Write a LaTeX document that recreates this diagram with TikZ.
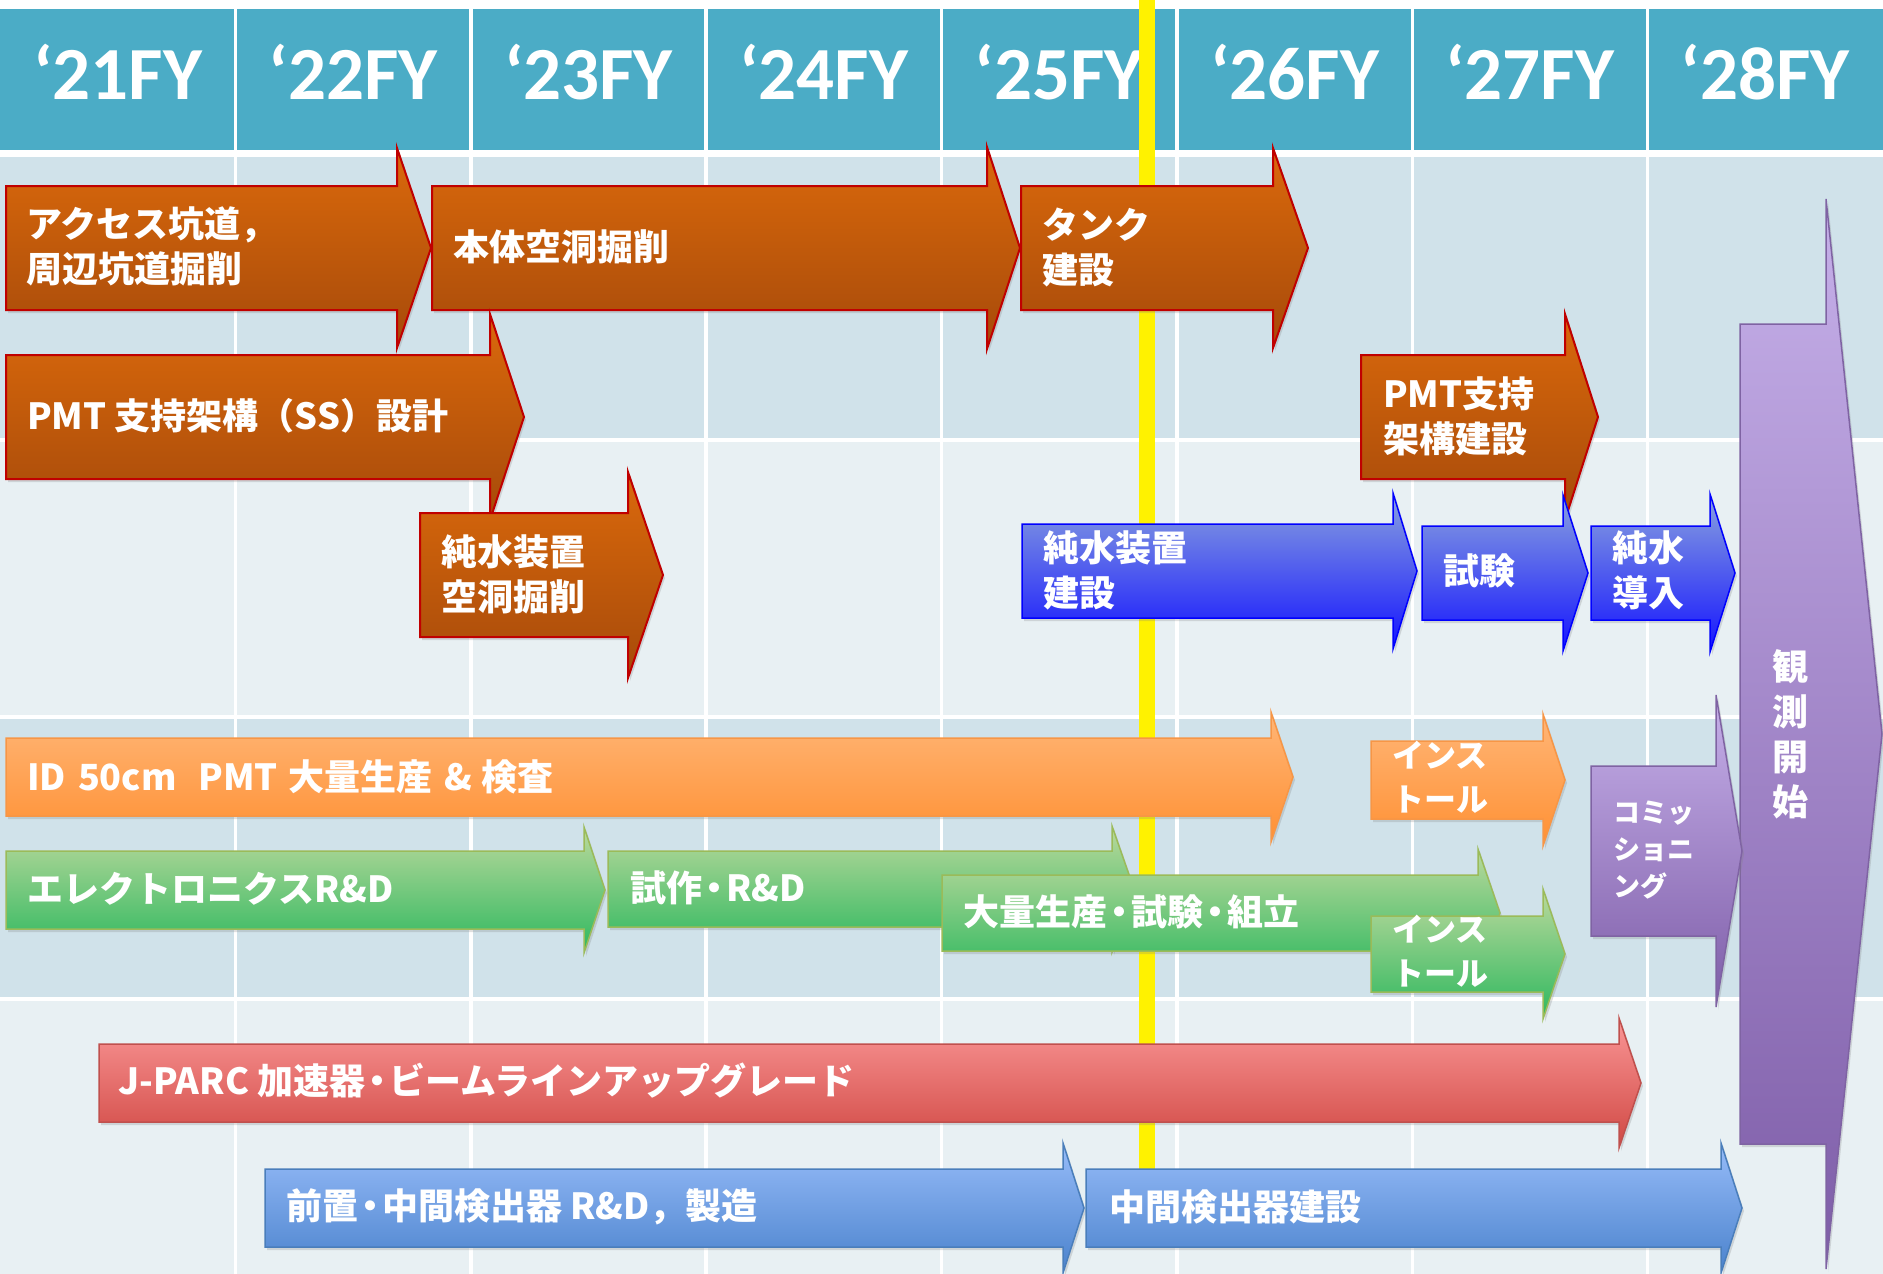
\documentclass[tikz,border=0pt]{standalone}
\usepackage{fontspec}
\newfontfamily\jpf{Noto Sans CJK JP}
\newfontfamily\hdf{Carlito}
\usetikzlibrary{shadows}
\definecolor{teal}{HTML}{4BACC6}
\definecolor{banddark}{HTML}{D0E2EA}
\definecolor{bandlight}{HTML}{E8F0F3}
\definecolor{brownT}{HTML}{DB690C}
\definecolor{brownB}{HTML}{A64A0A}
\definecolor{brownL}{HTML}{C00000}
\definecolor{loT}{HTML}{FFB677}
\definecolor{loB}{HTML}{FF9033}
\definecolor{loL}{HTML}{F79646}
\definecolor{grT}{HTML}{BCD99D}
\definecolor{grB}{HTML}{2DB85E}
\definecolor{grL}{HTML}{9BBB59}
\definecolor{pbT}{HTML}{8AA2DE}
\definecolor{pbB}{HTML}{1414FF}
\definecolor{pbL}{HTML}{0000FF}
\definecolor{puT}{HTML}{C6B0E9}
\definecolor{puB}{HTML}{7E5DA8}
\definecolor{puL}{HTML}{7F63A3}
\definecolor{rdT}{HTML}{FA9696}
\definecolor{rdB}{HTML}{D04843}
\definecolor{rdL}{HTML}{C0504D}
\definecolor{lbT}{HTML}{97BCF9}
\definecolor{lbB}{HTML}{4A82CC}
\definecolor{lbL}{HTML}{4A7EBB}
\newcommand\nd{\hspace{-6pt}・\hspace{-6pt}}
\newcommand\myarrow[8]{%
  \draw[#2] (#3,#6-#7) -- (#4,#6-#7) -- (#4,#6-#8) -- (#5,#6) -- (#4,#6+#8) -- (#4,#6+#7) -- (#3,#6+#7) -- cycle;
  \coordinate (#1) at (#3,#6);
}
\begin{document}
\begin{tikzpicture}[x=1pt,y=-1pt,
  shd/.style={drop shadow={shadow xshift=2pt,shadow yshift=-3pt,opacity=.25}},
  brownarr/.style={shd,draw=brownL,line width=2pt,top color=brownT,bottom color=brownB},
  lorange/.style={shd,draw=loL,line width=1.5pt,top color=loT,bottom color=loB},
  greenarr/.style={shd,draw=grL,line width=1.5pt,top color=grT,bottom color=grB},
  pblue/.style={shd,draw=pbL,line width=1.5pt,top color=pbT,bottom color=pbB},
  purplearr/.style={shd,draw=puL,line width=1.5pt,top color=puT,bottom color=puB},
  redarr/.style={shd,draw=rdL,line width=1.5pt,top color=rdT,bottom color=rdB},
  lblue/.style={shd,draw=lbL,line width=1.5pt,top color=lbT,bottom color=lbB},
  lbl/.style={anchor=west,inner sep=0pt,text=white,align=left,font=\jpf\bfseries\fontsize{36}{45}\selectfont},
  inst/.style={lbl,font=\jpf\bfseries\fontsize{32}{44}\selectfont},
  hdr/.style={inner sep=0pt,text=white,font=\hdf\bfseries\fontsize{75}{80}\selectfont},
  gridline/.style={white,line width=3.5pt}]
\useasboundingbox (0,0) rectangle (1883,1274);
\fill[white] (0,0) rectangle (1883,1274);
% header
\fill[teal] (0,9) rectangle (1883,150);
% bands
\fill[banddark] (0,157) rectangle (1883,440);
\fill[bandlight] (0,440) rectangle (1883,717);
\fill[banddark] (0,717) rectangle (1883,999);
\fill[bandlight] (0,999) rectangle (1883,1274);
\foreach \yy in {440,717,999} \draw[gridline,line width=4pt] (0,\yy) -- (1883,\yy);
\foreach \k in {1,...,7} \draw[gridline] ({\k*235.375},9) -- ({\k*235.375},1274);
\foreach \i/\lab in {0/‘21FY,1/‘22FY,2/‘23FY,3/‘24FY,4/‘25FY,5/‘26FY,6/‘27FY,7/‘28FY}
  \node[hdr] (h\i) at ({(\i+0.5)*235.375},72) {\lab};
% today line
\fill[yellow] (1139,0) rectangle (1155,1200);
% arrows
\myarrow{a1}{brownarr}{6}{397}{431}{248}{62}{100}
\node[lbl] (t1) at (26,246.5) {アクセス坑道，\\周辺坑道掘削};
\myarrow{a2}{brownarr}{432}{987}{1020}{248}{62}{101}
\node[lbl] (t2) at (453,247) {本体空洞掘削};
\myarrow{a3}{brownarr}{1021}{1273}{1308}{248}{62}{100}
\node[lbl] (t3) at (1042,247) {タンク\\建設};
\myarrow{a4}{brownarr}{6}{490}{524}{417}{62}{103}
\node[lbl] (t4) at (27,416) {PMT 支持架構（SS）設計};
\myarrow{a5}{brownarr}{420}{628}{663}{575}{62}{103}
\node[lbl] (t5) at (441,574.5) {純水装置\\空洞掘削};
\myarrow{a6}{brownarr}{1361}{1565}{1598}{417}{62}{103}
\node[lbl] (t6) at (1383,416.5) {PMT支持\\架構建設};
\myarrow{a7}{pblue}{1022}{1393}{1417}{571}{47}{78}
\node[lbl] (t7) at (1043,570) {純水装置\\建設};
\myarrow{a8}{pblue}{1422}{1563}{1588}{573}{47}{78}
\node[lbl] (t8) at (1443,571) {試験};
\myarrow{a9}{pblue}{1591}{1710}{1735}{573}{47}{79}
\node[lbl] (t9) at (1612,570) {純水\\導入};
\myarrow{a10}{purplearr}{1740}{1826}{1882}{734}{410}{535}
\node[lbl,anchor=center,align=center,font=\jpf\bfseries\fontsize{36}{45}\selectfont] (t10) at (1790,734) {観\\測\\開\\始};
\myarrow{a11}{purplearr}{1591}{1716}{1742}{851}{85}{156}
\node[lbl,font=\jpf\bfseries\fontsize{27}{37}\selectfont] (t11) at (1613,850) {コミッ\\ショニ\\ング};
\myarrow{a12}{lorange}{6}{1271}{1293}{777}{39}{65}
\node[lbl] (t12) at (27,777) {ID\hspace{12pt}50cm\hspace{22pt}PMT\hspace{10pt}大量生産\hspace{12pt}\&\hspace{10pt}検査};
\myarrow{a13}{lorange}{1371}{1543}{1565}{780}{39}{66}
\node[inst] (t13) at (1392,777) {インス\\トール};
\myarrow{a14}{greenarr}{6}{584}{605}{890}{39}{63}
\node[lbl] (t14) at (27,889) {エレクトロニクスR\&D};
\myarrow{a15}{greenarr}{608}{1112}{1134}{889}{38}{63}
\node[lbl] (t15) at (630,888) {試作\nd R\&D};
\myarrow{a16}{greenarr}{942}{1478}{1500}{913}{38}{64}
\node[lbl] (t16) at (963,912) {大量生産\nd 試験\nd 組立};
\myarrow{a17}{greenarr}{1371}{1543}{1565}{954}{38}{65}
\node[inst] (t17) at (1392,951.5) {インス\\トール};
\myarrow{a18}{redarr}{99}{1619}{1641}{1083}{39}{65}
\node[lbl] (t18) at (118,1081) {J-PARC 加速器\nd ビームラインアップグレード};
\myarrow{a19}{lblue}{265}{1063}{1084}{1208}{39}{65}
\node[lbl] (t19) at (286,1207) {前置\nd 中間検出器 R\&D，製造};
\myarrow{a20}{lblue}{1086}{1721}{1742}{1208}{39}{65}
\node[lbl] (t20) at (1109,1207) {中間検出器建設};
\end{tikzpicture}
\end{document}
